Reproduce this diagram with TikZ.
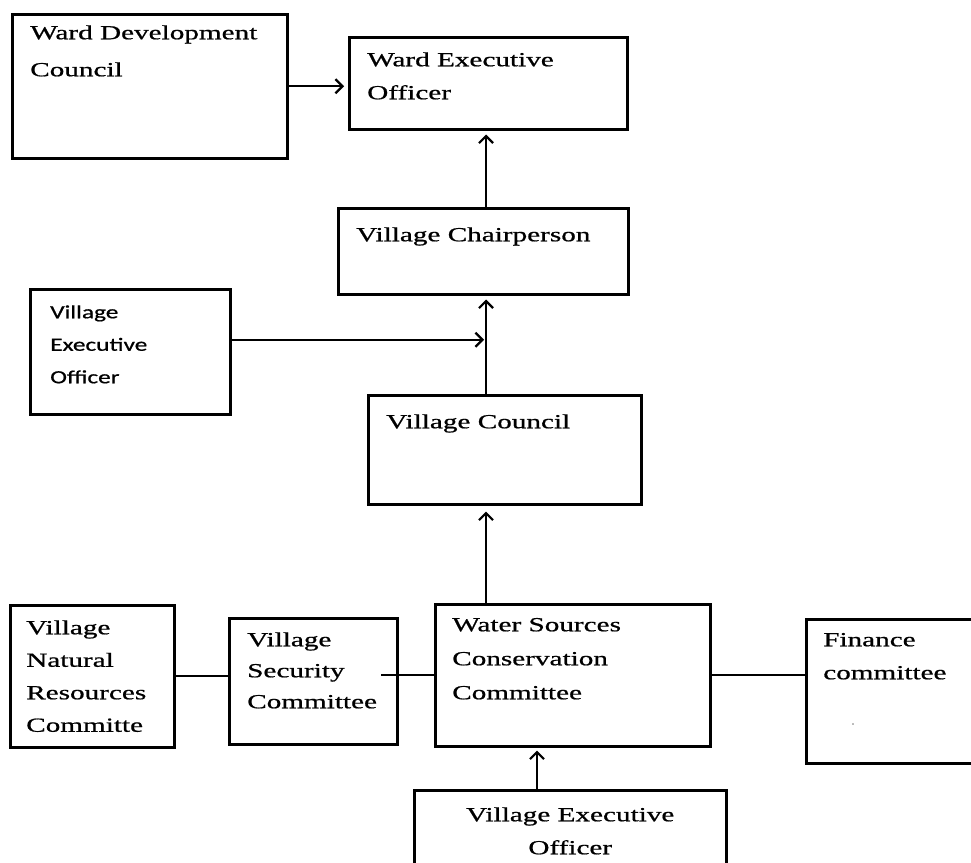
\documentclass[tikz,border=0pt]{standalone}
\usepackage{fontspec}
\setmainfont{Liberation Serif}[FakeStretch=1.46, FakeBold=0.8]
\newfontfamily\veosans{Carlito}[FakeStretch=1.36, FakeBold=0.8]
\usetikzlibrary{arrows.meta}

\newcommand{\boxtext}[4][28]{\parbox[t][#3pt][t]{\dimexpr#2pt-36pt\relax}{\raggedright\rule{0pt}{#1pt}#4}}

\begin{document}
\begin{tikzpicture}[x=1pt, y=-1pt, line width=2.2pt,
    box/.style={draw, line width=2.5pt, anchor=north west, inner xsep=18pt, inner ysep=0pt,
      font=\fontsize{20pt}{33pt}\selectfont},
    arr/.style={-{Straight Barb[length=7pt,width=14pt]}, shorten >=4pt}]
  \useasboundingbox (0,0) rectangle (971,862);
  \coordinate (spine) at (486,0);
  \coordinate (feed) at (537,0);

  \node[box, font=\fontsize{20pt}{37pt}\selectfont] (wdc) at (11,13) {\boxtext[25]{275}{144}{Ward Development\\Council}};
  \node[box] (weo) at (348,36) {\boxtext[29]{278}{92}{Ward Executive\\Officer}};
  \node[box] (vc) at (337,207) {\boxtext[33]{290}{86}{Village Chairperson}};
  \node[box, inner xsep=20pt, font=\veosans\fontsize{18.6pt}{32.5pt}\selectfont] (veo) at (29,288)
    {\parbox[t][125pt][t]{160pt}{\raggedright\rule{0pt}{29pt}Village\\Executive\\Officer}};
  \node[box] (vcl) at (367,394) {\boxtext[33]{273}{109}{Village Council}};

  \node[box, inner xsep=16pt, font=\fontsize{20pt}{32.5pt}\selectfont] (vnrc) at (9,604)
    {\parbox[t][142pt][t]{132pt}{\raggedright\rule{0pt}{29pt}Village\\Natural\\Resources\\Committe}};
  \node[box, font=\fontsize{20pt}{31pt}\selectfont] (vsc) at (228,617) {\boxtext{168}{126}{Village\\Security\\Committee}};
  \node[box, inner xsep=17pt, font=\fontsize{20pt}{34pt}\selectfont] (wscc) at (434,603)
    {\parbox[t][142pt][t]{241pt}{\raggedright\rule{0pt}{27pt}Water Sources\\Conservation\\Committee}};
  \node[box, inner xsep=17pt] (fin) at (805,618) {\parbox[t][144pt][t]{146pt}{\raggedright\rule{0pt}{27pt}Finance\\committee}};
  \node[text=gray, font=\small] (findot) at (853,724) {.};
  \node[box] (veo2) at (413,789) {\parbox[t][100pt][t]{276pt}{\centering\rule{0pt}{31pt}Village Executive\\Officer}};

  \draw[arr] (wdc.east) -- (wdc.east -| weo.west);
  \draw[arr] (vc.north -| spine) -- (weo.south -| spine);
  \draw[arr] (vcl.north -| spine) -- (vc.south -| spine);
  \draw[arr, shorten >=2pt] ([yshift=12pt]veo.east) -- ([yshift=12pt]veo.east -| spine);
  \draw[arr, shorten >=6pt] (wscc.north -| spine) -- (vcl.south -| spine);
  \draw[arr, shorten >=3pt] (veo2.north -| feed) -- (wscc.south -| feed);
  \draw (vnrc.east) -- (vnrc.east -| vsc.west);
  \draw (wscc.west) -- (wscc.west -| vsc.east) -- ++(-18,0);
  \draw (wscc.east) -- (wscc.east -| fin.west);
\end{tikzpicture}
\end{document}
